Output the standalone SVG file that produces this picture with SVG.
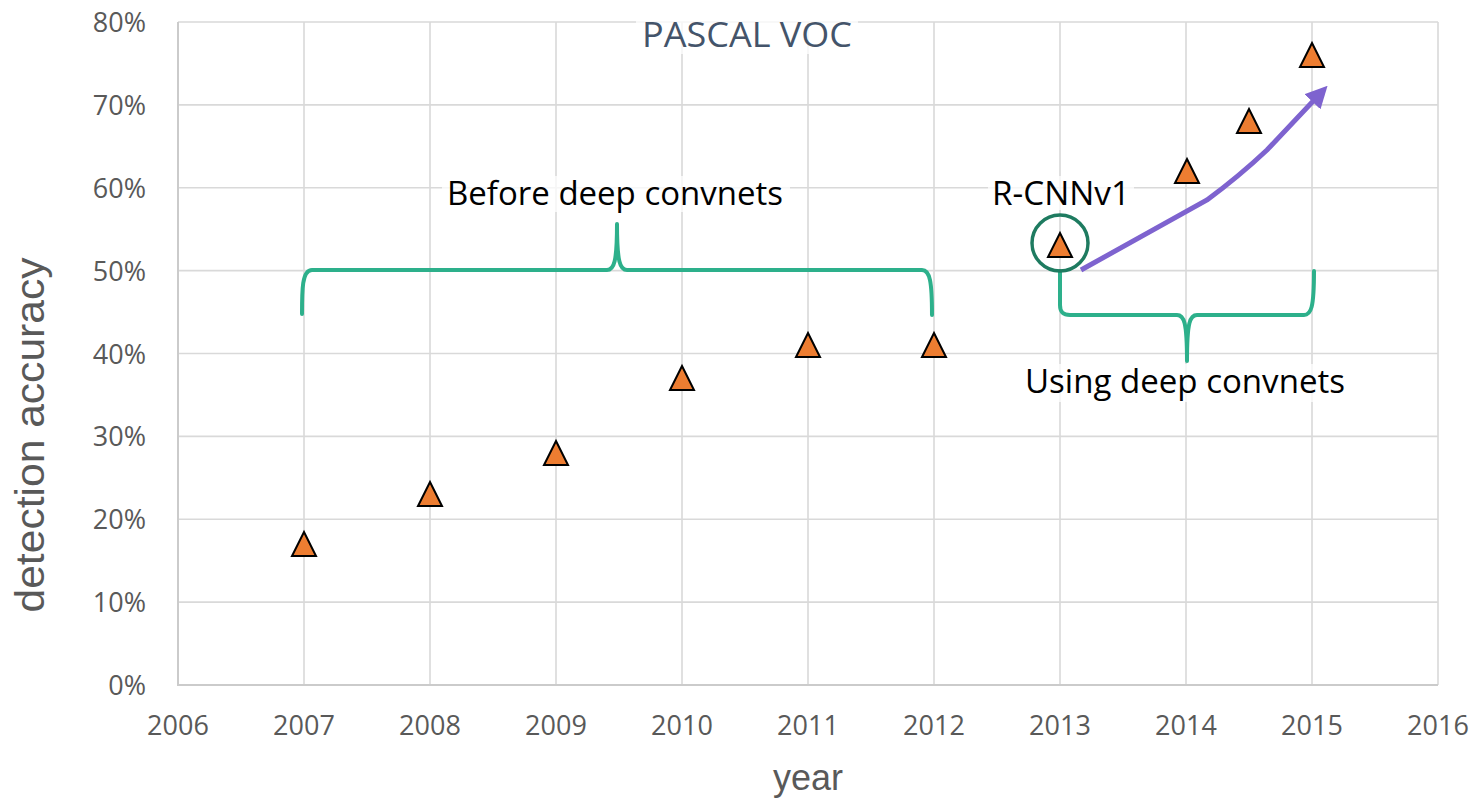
<svg xmlns="http://www.w3.org/2000/svg" width="1472" height="798" viewBox="0 0 1472 798">
<style>
.grid{stroke:#d9d9d9;stroke-width:1.6;fill:none}
.axis{stroke:#cbcbcb;stroke-width:2;fill:none}
.tick{font-family:"Open Sans","Liberation Sans",sans-serif;font-size:27px;fill:#595959}
.ylab{text-anchor:end}
.xlab{text-anchor:middle}
.axt{font-family:"Liberation Sans",Arial,sans-serif;fill:#595959}
.ann{font-family:"Open Sans","Liberation Sans",sans-serif;font-size:33px;fill:#000}
.brace{stroke:#2DB08B;stroke-width:4;fill:none;stroke-linecap:round;stroke-linejoin:round}
.pt{fill:#ED7D31;stroke:#000;stroke-width:2;stroke-linejoin:miter}
.bg{fill:#fff;opacity:0.75}
</style>
<defs>
<polygon id="tri" points="0,-12 12,12 -12,12"/>
<marker id="ah" viewBox="0 0 10 10" refX="3" refY="5" markerWidth="4.4" markerHeight="4.4" orient="auto" markerUnits="strokeWidth">
<path d="M0,0 L10,5 L0,10 Z" fill="#7E63CF"/>
</marker>
</defs>
<rect width="1472" height="798" fill="#fff"/>
<g id="gridlines">
<path class="grid" d="M178,22H1438M178,104.9H1438M178,187.8H1438M178,270.6H1438M178,353.5H1438M178,436.4H1438M178,519.3H1438M178,602.1H1438"/>
<path class="grid" d="M304,22V685M430,22V685M556,22V685M682,22V685M808,22V685M934,22V685M1060,22V685M1186,22V685M1312,22V685M1438,22V685"/>
<path class="axis" d="M178,22V685H1438"/>
</g>
<g id="y-ticks" class="tick ylab">
<text x="146" y="32">80%</text>
<text x="146" y="115">70%</text>
<text x="146" y="198">60%</text>
<text x="146" y="281">50%</text>
<text x="146" y="364">40%</text>
<text x="146" y="446">30%</text>
<text x="146" y="529">20%</text>
<text x="146" y="612">10%</text>
<text x="146" y="695">0%</text>
</g>
<g id="x-ticks" class="tick xlab">
<text x="178" y="735">2006</text>
<text x="304" y="735">2007</text>
<text x="430" y="735">2008</text>
<text x="556" y="735">2009</text>
<text x="682" y="735">2010</text>
<text x="808" y="735">2011</text>
<text x="934" y="735">2012</text>
<text x="1060" y="735">2013</text>
<text x="1186" y="735">2014</text>
<text x="1312" y="735">2015</text>
<text x="1438" y="735">2016</text>
</g>
<g id="axis-titles">
<text class="axt" x="808" y="790" font-size="36" text-anchor="middle">year</text>
<text class="axt" transform="translate(44,435) rotate(-90)" font-size="40" text-anchor="middle" textLength="355" lengthAdjust="spacingAndGlyphs">detection accuracy</text>
</g>
<g id="title">
<rect class="bg" x="636" y="14" width="222" height="40"/>
<text x="747" y="47" font-family="'Open Sans','Liberation Sans',sans-serif" font-size="34" fill="#44546A" text-anchor="middle" textLength="210" lengthAdjust="spacingAndGlyphs">PASCAL VOC</text>
</g>
<g id="connectors">
<path class="brace" d="M302,314 C302,290 302,270 312,270 L607,270 C614,270 617,262 617,224 C617,262 620,270 627,270 L922,270 C930,270 932,282 932,315"/>
<path class="brace" d="M1060,271 L1060,305 C1060,312 1063,315 1070,315 L1177,315 C1184,315 1187,322 1187,361 C1187,322 1190,315 1197,315 L1304,315 C1311,315 1314,308 1314,271"/>
<path d="M1081,270 L1207,200 C1230,183 1250,166 1267,150 L1317,97" fill="none" stroke="#7E63CF" stroke-width="5" stroke-linecap="butt" marker-end="url(#ah)"/>
</g>
<g id="label-before">
<rect class="bg" x="442" y="176" width="348" height="36"/>
<text class="ann" x="447" y="205" textLength="336" lengthAdjust="spacingAndGlyphs">Before deep convnets</text>
</g>
<g id="label-rcnn">
<rect class="bg" x="988" y="176" width="146" height="34"/>
<text class="ann" x="992" y="205" textLength="138" lengthAdjust="spacingAndGlyphs">R-CNNv1</text>
</g>
<g id="label-using">
<rect class="bg" x="1020" y="364" width="330" height="38"/>
<text class="ann" x="1025" y="393" textLength="320" lengthAdjust="spacingAndGlyphs">Using deep convnets</text>
</g>
<g id="rcnn-circle">
<circle cx="1060" cy="243" r="28" fill="none" stroke="#1E7B60" stroke-width="3.5"/>
</g>
<g id="points">
<use href="#tri" class="pt" x="304" y="544"/>
<use href="#tri" class="pt" x="430" y="494"/>
<use href="#tri" class="pt" x="556" y="453"/>
<use href="#tri" class="pt" x="682" y="378"/>
<use href="#tri" class="pt" x="808" y="345"/>
<use href="#tri" class="pt" x="934" y="345"/>
<use href="#tri" class="pt" x="1060" y="245"/>
<use href="#tri" class="pt" x="1187" y="171"/>
<use href="#tri" class="pt" x="1249" y="121"/>
<use href="#tri" class="pt" x="1312" y="55"/>
</g>
</svg>
